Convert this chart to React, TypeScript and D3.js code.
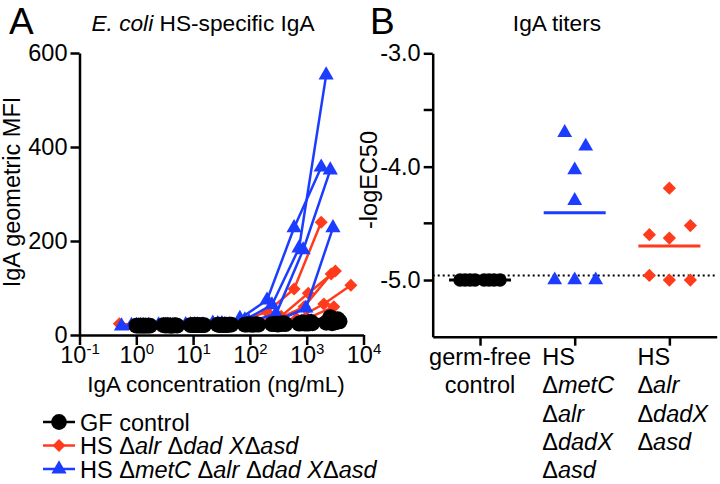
import React, { useEffect, useRef } from 'react'
import * as d3 from 'd3'

// Panel A: each mouse serum is a 3-fold dilution series, highest concentration first
const dilutionFactors = [1, 3, 9, 27, 81, 243, 729, 2187]

const gfTops = [2200, 2400, 2600, 2800, 3000, 3200, 3500, 3800]
const gfMfi = [
  [26, 24, 23, 22, 22, 21, 21, 20],
  [28, 25, 23, 22, 21, 21, 20, 20],
  [38, 27, 24, 23, 22, 21, 21, 20],
  [25, 24, 22, 22, 21, 21, 20, 20],
  [30, 26, 24, 22, 22, 21, 20, 20],
  [27, 24, 23, 22, 21, 21, 20, 20],
  [34, 28, 25, 23, 22, 21, 21, 20],
  [29, 25, 23, 22, 22, 21, 20, 20],
]

const alrTops = [1800, 2700, 3200, 6000, 3000, 1100, 2200]
const alrMfi = [
  [240, 98, 49, 30, 24, 22, 21, 20],
  [130, 60, 33, 25, 22, 21, 20, 20],
  [136, 89, 40, 27, 23, 21, 20, 20],
  [106, 66, 35, 25, 22, 21, 20, 20],
  [60, 35, 26, 22, 21, 20, 20, 20],
  [30, 26, 24, 23, 22, 22, 21, 24],
  [36, 28, 25, 23, 22, 21, 21, 20],
]

const metcTops = [2200, 1800, 2600, 2900, 1200, 2400, 3200]
const metcMfi = [
  [553, 185, 64, 32, 24, 22, 20, 20],
  [357, 228, 74, 35, 25, 22, 21, 20],
  [351, 181, 45, 28, 24, 22, 20, 20],
  [228, 57, 32, 25, 22, 21, 20, 20],
  [28, 25, 23, 22, 21, 20, 20, 19],
  [30, 27, 24, 22, 21, 20, 20, 19],
  [32, 28, 24, 22, 21, 20, 19, 19],
]

const mfiTicks = [0, 200, 400, 600]
const concExponents = [-1, 0, 1, 2, 3, 4]

// Panel B: -logEC50 per mouse
const titerGroups = ['gf', 'metc', 'alr']
const gfTiters = [-5.0, -5.0, -5.0, -5.0, -5.0, -5.0, -5.0, -5.0]
const metcTiters = [-3.70, -3.82, -4.03, -4.30, -5.0, -5.0, -5.0]
const alrTiters = [-4.19, -4.52, -4.60, -4.63, -4.96, -5.0, -5.0]
const detectionLimit = -4.96
const titerTicks = [-3.0, -4.0, -5.0]
const titerMinorTicks = [-3.5, -4.5]

// horizontal spread of the points inside each group, in px
const gfJitter = [-20, -15, -10, -5, 4, 9, 14, 20]
const metcJitter = [-10, 11, 0, 0, -20, 0, 21]
const alrJitter = [0, 21, -20, 0, -20, 0, 21]

const BLACK = '#000000'
const RED = '#ff3b1c'
const BLUE = '#1c3cff'
const FONT = '"Liberation Sans", Arial, Helvetica, sans-serif'
const FS = 23.5

type Piece = { t: string; i?: boolean }

function addPieces(sel: any, pieces: Piece[]) {
  pieces.forEach(p => {
    sel.append('tspan').attr('font-style', p.i ? 'italic' : 'normal').text(p.t)
  })
}

export default function App() {
  const ref = useRef<SVGSVGElement>(null)

  useEffect(() => {
    const svg = d3.select(ref.current)
    svg.selectAll('*').remove()
    svg.attr('font-family', FONT)

    // ---------------- Panel A ----------------
    const x = d3.scaleLog().domain([0.1, 10000]).range([79.5, 363.5])
    const y = d3.scaleLinear().domain([0, 600]).range([335, 53])

    const circle = d3.symbol().type(d3.symbolCircle).size(195)
    const tri = d3.symbol().type(d3.symbolTriangle).size(100)
    const square = d3.symbol().type(d3.symbolSquare).size(85)

    const a = svg.append('g')

    const line = d3.line<[number, number]>().x(d => x(d[0])).y(d => y(d[1]))

    const drawGroup = (tops: number[], mfi: number[][], color: string, kind: string) => {
      const g = a.append('g')
      const series = tops.map((top, s) =>
        dilutionFactors.map((f, i) => [top / f, mfi[s][i]] as [number, number]))
      g.selectAll('path.ln').data(series).join('path')
        .attr('class', 'ln')
        .attr('d', line)
        .attr('fill', 'none')
        .attr('stroke', color)
        .attr('stroke-width', 2.5)
      const pts = series.flat()
      g.selectAll('path.pt').data(pts).join('path')
        .attr('class', 'pt')
        .attr('d', kind === 'circle' ? circle() : kind === 'tri' ? tri() : square())
        .attr('transform', d => `translate(${x(d[0])},${y(d[1])})` + (kind === 'diamond' ? ' rotate(45)' : ''))
        .attr('fill', color)
    }
    drawGroup(alrTops, alrMfi, RED, 'diamond')
    drawGroup(metcTops, metcMfi, BLUE, 'tri')
    drawGroup(gfTops, gfMfi, BLACK, 'circle')

    const yAx = a.append('g').attr('transform', 'translate(79.5,0)')
      .call(d3.axisLeft(y).tickValues(mfiTicks).tickSize(9).tickSizeOuter(0).tickPadding(3))
    const xAx = a.append('g').attr('transform', 'translate(0,335)')
      .call(d3.axisBottom(x).tickValues(concExponents.map(e => Math.pow(10, e)))
        .tickSize(10).tickSizeOuter(0).tickPadding(5).tickFormat(() => ''))
    xAx.selectAll('.tick text').each(function (d: any) {
      const t = d3.select(this)
      t.append('tspan').text('10')
      t.append('tspan').attr('dy', -9).attr('font-size', 15).text(String(Math.round(Math.log10(d))))
    })

    // ---------------- Panel B ----------------
    const xb = d3.scalePoint<string>().domain(titerGroups).range([432.7, 716.7]).padding(0.5)
    const yb = d3.scaleLinear().domain([-5.5, -3.0]).range([336.7, 53.3])

    const b = svg.append('g')

    b.append('line')
      .attr('x1', xb.range()[0]).attr('x2', xb.range()[1])
      .attr('y1', yb(detectionLimit)).attr('y2', yb(detectionLimit))
      .attr('stroke', BLACK).attr('stroke-width', 2).attr('stroke-dasharray', '2,3')

    const titerSets = [
      { key: 'gf', vals: gfTiters, jit: gfJitter, color: BLACK, kind: 'circle' },
      { key: 'metc', vals: metcTiters, jit: metcJitter, color: BLUE, kind: 'tri' },
      { key: 'alr', vals: alrTiters, jit: alrJitter, color: RED, kind: 'diamond' },
    ]
    const circleB = d3.symbol().type(d3.symbolCircle).size(140)
    const triB = d3.symbol().type(d3.symbolTriangle).size(95)
    const squareB = d3.symbol().type(d3.symbolSquare).size(88)

    titerSets.forEach(set => {
      const cx = xb(set.key) as number
      const m = d3.mean(set.vals) as number
      const g = b.append('g')
      g.selectAll('path').data(set.vals).join('path')
        .attr('d', set.kind === 'circle' ? circleB() : set.kind === 'tri' ? triB() : squareB())
        .attr('transform', (d, i) => `translate(${cx + set.jit[i]},${yb(d)})` + (set.kind === 'diamond' ? ' rotate(45)' : ''))
        .attr('fill', set.color)
      g.append('line')
        .attr('x1', cx - 31).attr('x2', cx + 31)
        .attr('y1', yb(m)).attr('y2', yb(m))
        .attr('stroke', set.color).attr('stroke-width', 3)
    })

    const yAxB = b.append('g').attr('transform', 'translate(432.7,0)')
      .call(d3.axisLeft(yb).tickValues(titerTicks).tickSize(9).tickSizeOuter(0).tickPadding(3)
        .tickFormat(d => (d as number).toFixed(1)))
    b.append('g').attr('transform', 'translate(432.7,0)')
      .selectAll('line').data(titerMinorTicks).join('line')
      .attr('x1', -9).attr('x2', 0)
      .attr('y1', d => yb(d)).attr('y2', d => yb(d))
      .attr('stroke', BLACK).attr('stroke-width', 2.5)
    const xAxB = b.append('g').attr('transform', 'translate(0,336.7)')
      .call(d3.axisBottom(xb).tickSize(9).tickSizeOuter(0).tickFormat(() => ''))

    // axis styling
    ;[yAx, xAx, yAxB, xAxB].forEach(ax => {
      ax.attr('font-family', FONT).attr('font-size', FS)
      ax.select('.domain').attr('stroke', BLACK).attr('stroke-width', 2.5)
      ax.selectAll('.tick line').attr('stroke', BLACK).attr('stroke-width', 2.5)
      ax.selectAll('.tick text').attr('fill', BLACK)
    })
    xAx.selectAll('.tick text').attr('dy', null).attr('y', 363 - 335)

    // category labels, block centred on the tick, lines left aligned
    const catLabels: Record<string, Piece[][]> = {
      gf: [[{ t: 'germ-free' }], [{ t: 'control' }]],
      metc: [[{ t: 'HS' }], [{ t: 'Δ' }, { t: 'metC', i: true }], [{ t: 'Δ' }, { t: 'alr', i: true }],
        [{ t: 'Δ' }, { t: 'dadX', i: true }], [{ t: 'Δ' }, { t: 'asd', i: true }]],
      alr: [[{ t: 'HS' }], [{ t: 'Δ' }, { t: 'alr', i: true }], [{ t: 'Δ' }, { t: 'dadX', i: true }],
        [{ t: 'Δ' }, { t: 'asd', i: true }]],
    }
    titerGroups.forEach(k => {
      const g = b.append('g').attr('font-size', FS).attr('fill', BLACK)
      const centered = k === 'gf'
      catLabels[k].forEach((ln, i) => {
        const t = g.append('text').attr('y', 365 + i * 28.3)
          .attr('text-anchor', centered ? 'middle' : 'start')
        addPieces(t, ln)
      })
      const bb = (g.node() as SVGGElement).getBBox()
      const cx = xb(k) as number
      const dx = centered ? cx : cx - bb.width / 2 + 4
      g.attr('transform', `translate(${dx},0)`)
    })

    // ---------------- texts ----------------
    svg.append('text').attr('x', 9).attr('y', 34).attr('font-size', 37).text('A')
    svg.append('text').attr('x', 370).attr('y', 34).attr('font-size', 37).text('B')

    const titleA = svg.append('text').attr('x', 203).attr('y', 31).attr('font-size', 22.7)
      .attr('text-anchor', 'middle')
    addPieces(titleA, [{ t: 'E. coli', i: true }, { t: ' HS-specific IgA' }])
    svg.append('text').attr('x', 557).attr('y', 31).attr('font-size', 22.7)
      .attr('text-anchor', 'middle').text('IgA titers')

    svg.append('text').attr('transform', 'translate(20,192) rotate(-90)')
      .attr('text-anchor', 'middle').attr('font-size', FS).text('IgA geometric MFI')
    svg.append('text').attr('transform', 'translate(377,180) rotate(-90)')
      .attr('text-anchor', 'middle').attr('font-size', FS).text('-logEC50')
    svg.append('text').attr('x', 216).attr('y', 392).attr('font-size', 22.5)
      .attr('text-anchor', 'middle').text('IgA concentration (ng/mL)')

    // legend
    const legend = [
      { color: BLACK, kind: 'circle', label: [{ t: 'GF control' }] },
      { color: RED, kind: 'diamond', label: [{ t: 'HS Δ' }, { t: 'alr', i: true }, { t: ' Δ' }, { t: 'dad X', i: true }, { t: 'Δ' }, { t: 'asd', i: true }] },
      { color: BLUE, kind: 'tri', label: [{ t: 'HS Δ' }, { t: 'metC', i: true }, { t: ' Δ' }, { t: 'alr', i: true }, { t: ' Δ' }, { t: 'dad X', i: true }, { t: 'Δ' }, { t: 'asd', i: true }] },
    ]
    legend.forEach((l, i) => {
      const cy = 422 + i * 23.5
      const g = svg.append('g')
      g.append('line').attr('x1', 43).attr('x2', 75).attr('y1', cy).attr('y2', cy)
        .attr('stroke', l.color).attr('stroke-width', 2.5)
      g.append('path')
        .attr('d', l.kind === 'circle' ? circle() : l.kind === 'tri' ? tri() : square())
        .attr('transform', `translate(59,${cy})` + (l.kind === 'diamond' ? ' rotate(45)' : ''))
        .attr('fill', l.color)
      const t = g.append('text').attr('x', 80).attr('y', cy + 8.5).attr('font-size', 23.5)
      addPieces(t, l.label as Piece[])
    })
  }, [])

  return (
    <div style={{ position: 'fixed', left: 0, top: 0 }}>
      <svg ref={ref} width={720} height={484} style={{ display: 'block', background: '#fff' }} />
    </div>
  )
}
